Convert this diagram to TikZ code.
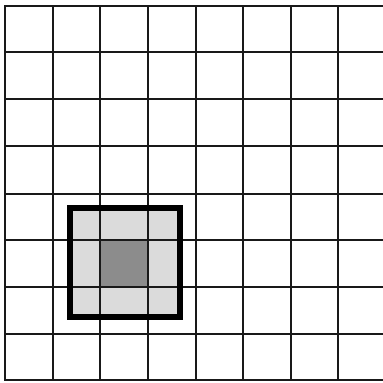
\documentclass[tikz,border=0pt]{standalone}
\begin{document}
\begin{tikzpicture}[x=1pt,y=-1pt,
  gridline/.style={line width=2.9pt,black!90},
  frame/.style={line width=6.5pt,black},
  lightcell/.style={fill=black!14},
  darkcell/.style={fill=black!45}]
\useasboundingbox (0,0) rectangle (383,383);
\fill[white] (0,0) rectangle (383,383);
% shading inside the window
\fill[lightcell] (70,208) rectangle (180,317);
\fill[darkcell] (100,240) rectangle (148,287);
% vertical grid lines
\foreach \x in {5,53,100,148,196,243,291,338}
  \draw[gridline] (\x,5) -- (\x,381);
% horizontal grid lines
\foreach \y in {6,52,99,146,194,240,287,334,380}
  \draw[gridline] (4,\y) -- (383,\y);
% thick window frame
\draw[frame] (70,208) rectangle (180,317);
\end{tikzpicture}
\end{document}
